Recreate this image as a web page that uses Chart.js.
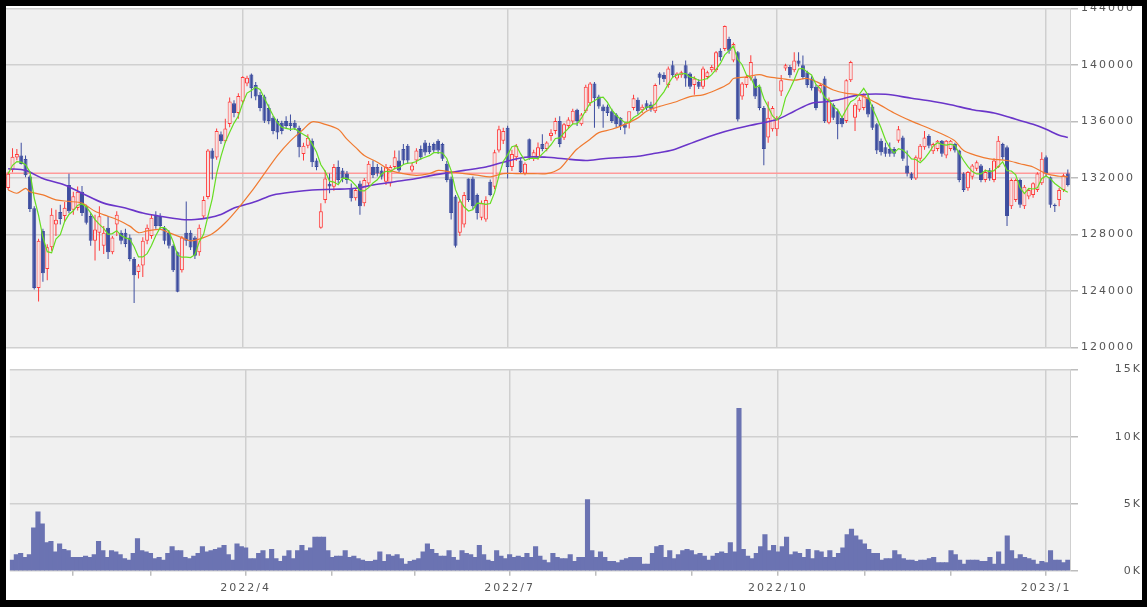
<!DOCTYPE html>
<html>
<head>
<meta charset="utf-8">
<script src="https://cdn.jsdelivr.net/npm/chart.js@4.4.0/dist/chart.umd.min.js"></script>
<style>
  html, body { margin: 0; padding: 0; background: #fff; overflow: hidden; }
  #wrap { position: relative; width: 1147px; height: 607px; overflow: hidden; background: #fff; }
  #priceBox { position: absolute; left: 6px; top: -1px; width: 1136px; height: 358px; }
  #volBox { position: absolute; left: 6px; top: 358px; width: 1136px; height: 243px; }
  #frame { position: absolute; left: 0; top: 0; width: 1147px; height: 607px; box-sizing: border-box;
           border-style: solid; border-color: #000; border-width: 6px 5px 7px 6px; pointer-events: none; }
</style>
</head>
<body>
<div id="wrap">
  <div id="priceBox"><canvas id="priceChart"></canvas></div>
  <div id="volBox"><canvas id="volChart"></canvas></div>
  <div id="frame"></div>
</div>
<script>
// trading days start here; weekends and these market holidays are skipped
const startDate = '2022-01-12';
const holidays = ['2022-02-11','2022-02-23','2022-03-21','2022-04-29','2022-05-03','2022-05-04','2022-05-05',
  '2022-07-18','2022-08-11','2022-09-19','2022-09-23','2022-10-10','2022-11-03','2022-11-23',
  '2023-01-02','2023-01-03','2023-01-09'];

const openPrices = [
  131300,132550,133450,133600,133350,132100,129850,124200,128250,125550,
  127100,128700,129600,129300,131500,129750,129870,131030,129990,129300,
  127550,128130,127200,128480,126740,128710,128130,128130,127780,126270,
  125340,125800,127550,127900,129400,129300,128480,128130,127200,126740,
  125460,128130,128130,127780,126740,129270,130660,133940,133450,135100,
  134600,135820,137300,136600,137420,138700,139330,138580,137900,137770,
  136950,136260,136030,135910,136030,135910,135910,135560,133700,134290,
  134630,133240,128480,130450,131600,131380,132780,132540,132310,131270,
  130570,131610,130220,131610,132780,132780,132540,131730,131610,132780,
  133240,134050,134290,132540,133240,134050,134520,134290,134400,134630,
  134400,133010,131960,130690,128130,128710,131960,131960,130800,129180,
  129060,131730,131380,133940,134630,135560,132780,133470,133240,132310,
  134750,133370,133470,134400,134050,134980,135330,136030,134860,135680,
  136000,136840,135800,136720,137300,138700,137770,137070,137070,136730,
  136490,136260,135800,135910,136960,137540,136800,137300,137200,136720,
  139400,139300,138580,139980,139050,139280,139980,139400,138580,138820,
  138470,139160,139630,139630,141020,141140,141840,140330,140900,137770,
  138580,139050,139050,138470,136960,134870,135450,135450,138120,139750,
  139860,139630,140330,139980,139500,139050,138470,138120,139050,135910,
  137190,136730,136260,136030,138930,136260,136840,136960,137650,137070,
  135800,134630,134170,134050,134050,134630,134870,132890,132310,131960,
  133360,134170,134980,133900,134050,134630,133590,134050,134400,133940,
  132310,131270,132080,132660,132890,131850,132550,131850,132770,134400,
  134170,129990,130450,131850,129990,130690,130800,131150,131620,133470,
  132050,130100,130450,131150,132310
];
const highPrices = [
  132450,134100,134050,134500,133600,132200,130000,127700,128400,127300,
  129850,129750,130100,130300,132300,131030,131400,131430,130100,129500,
  129400,129990,128600,129300,127900,129640,128300,128400,128000,126400,
  125900,127800,128700,129400,129640,129500,128600,128300,127300,126800,
  127900,130340,128300,127900,128700,130700,134050,134100,135500,135300,
  136200,137700,137500,138000,139200,139250,139400,138800,138100,137900,
  137200,136400,136200,136050,136380,136490,136100,135700,134500,135100,
  134800,133400,130220,132540,132310,133000,133240,132700,132500,131610,
  131300,131800,132000,133200,133240,133000,132800,133000,132900,133940,
  133940,134400,134400,133100,134100,134300,134700,134500,134520,134750,
  134500,133200,132100,130800,130500,131000,131960,132100,130900,130400,
  130700,131900,134000,135700,135560,135700,134000,134400,133400,133100,
  134800,134000,134520,135100,134600,135450,136260,136380,135900,136300,
  136900,136900,136600,138600,138800,138800,137900,137200,137200,136900,
  136600,136300,135900,136600,137900,137700,137200,137500,137400,138700,
  139500,139500,139900,140300,139500,139600,140330,139500,139200,139000,
  139900,139600,140000,141000,141200,142800,142000,141600,141000,138800,
  139300,140700,139200,138600,137100,137420,137100,136400,139300,140100,
  140000,140900,140900,140670,139600,139200,138600,138700,139200,137700,
  137300,136900,136400,139000,140300,137300,137700,138000,138000,137200,
  135900,134800,134500,134520,134200,135680,135000,133940,132400,133600,
  134400,135330,135100,134500,134700,134700,134700,134700,134500,134000,
  132400,132500,133000,133240,133000,132600,132700,133400,134980,134500,
  134300,131960,131960,131960,131500,131300,131700,132400,133820,133600,
  132100,130200,131300,132300,132600
];
const lowPrices = [
  131150,132400,133250,132950,132050,129600,124100,123250,124650,124750,
  126850,127900,128700,128900,129500,129400,129700,129300,128700,127200,
  126150,126850,126620,126270,126600,127900,127300,127100,126100,123140,
  124880,124990,127300,127700,128400,128400,127300,127000,125340,123900,
  125300,127200,126900,126270,126500,129100,130500,131900,133300,134400,
  134500,135600,136300,136200,137200,138500,137650,137500,136720,135900,
  135800,135100,134750,135100,135500,135330,135400,133470,133240,134100,
  132780,132550,128400,130220,130920,131100,131610,131700,131600,130340,
  130400,129400,130000,131400,132000,132100,131900,131500,131400,132600,
  132430,133000,133000,132400,133000,133300,133600,133700,133800,133700,
  133200,131700,129060,127080,127900,128500,130300,129800,129060,129000,
  128900,130700,131200,133800,134400,131960,132500,133200,132300,132200,
  133300,133200,133300,133900,133900,134640,135100,134170,134700,135500,
  135800,135680,135700,136600,137100,135560,136900,135560,136400,135900,
  135600,135400,135100,135500,136800,136500,136600,136800,136700,136600,
  138600,138800,138400,139100,138900,139100,138470,138300,137890,138300,
  138300,139000,139500,139500,140300,141000,140800,140200,136000,137540,
  138400,138900,137600,136800,132900,134500,135300,134980,137800,139600,
  139100,139500,139900,139000,138400,138200,136800,138000,135900,135800,
  136100,134750,135600,135900,138800,135330,136700,136800,136300,135400,
  133700,133600,133500,133500,133500,134500,133200,132100,131850,131850,
  133200,134000,134100,133700,133900,133500,133400,133900,133800,131700,
  131000,131100,131900,132500,131700,131700,131800,131700,132700,133300,
  128600,129800,130300,129900,129800,130500,130600,131000,131500,132100,
  129900,129600,130000,131000,131400
];
const closePrices = [
  132300,133500,133700,133000,132200,129800,124200,127550,125250,127100,
  129400,129050,129100,129900,129650,130700,131030,129520,128830,127550,
  128360,129290,128130,126740,127780,129400,127550,127320,126270,125110,
  125800,127550,128480,129180,128600,128600,127550,127200,125460,123950,
  127780,127550,127080,126500,128480,130450,133940,133360,135330,134600,
  135500,137420,136600,137800,139160,139100,138350,137770,136950,136050,
  136030,135330,135220,135330,135680,135680,135560,134170,134290,134860,
  133120,132780,129640,131960,131400,132780,131850,131960,131850,130570,
  131150,130000,131850,133010,132200,132310,132080,132780,132780,133470,
  132540,133240,133240,132890,133940,133470,133800,133820,133940,133940,
  133360,131850,129520,127200,130340,130800,130450,129990,129520,130220,
  130450,130800,133820,135450,135330,132780,133700,134290,132430,133010,
  133470,133820,134170,134050,134520,135210,136030,134400,135800,136140,
  136770,136030,136490,138470,138700,137650,137070,136730,136610,136030,
  135800,135680,135560,136720,137650,136725,137050,136950,136900,138580,
  139100,139000,139750,139280,139400,139500,139050,138470,139050,138470,
  139750,139500,139860,140910,140560,142770,141020,141490,136140,138700,
  139160,140210,137770,136960,134050,136260,136960,136260,138930,139980,
  139280,140330,140100,139160,138580,138350,136960,138580,136030,137540,
  136260,135800,135800,138930,140210,137190,137540,137890,136490,135560,
  133940,133820,133710,133710,133710,135450,133360,132310,131960,133470,
  134290,134870,134290,134400,134630,133710,134630,134630,133940,131850,
  131150,132430,132890,133120,131850,132430,131960,133240,134630,133470,
  129300,131850,131850,130100,131380,131150,131620,132310,133360,132310,
  130100,129990,131150,132200,131500
];
const volumes = [
  800,1200,1300,1000,1200,3200,4400,3500,2100,2200,
  1400,2000,1600,1500,1000,1000,1000,1100,1000,1200,
  2200,1500,1000,1500,1400,1200,900,800,1300,2400,
  1500,1400,1300,900,1000,800,1300,1800,1500,1500,
  1000,900,1100,1300,1800,1400,1500,1600,1700,1900,
  1200,800,2000,1800,1700,900,900,1300,1500,900,
  1600,900,700,1100,1500,900,1500,1900,1500,1700,
  2500,2500,2500,1500,1000,1100,1100,1500,1000,1100,
  900,800,700,700,800,1400,700,1200,1100,1200,
  900,500,700,800,900,1400,2000,1600,1300,1100,
  1100,1500,1000,800,1500,1300,1200,1000,1900,1200,
  800,700,1500,1100,900,1200,1000,1100,1000,1300,
  1000,1800,1100,800,600,1300,1000,900,900,1200,
  700,1000,1000,5300,1500,1000,1400,1000,700,700,
  600,800,900,1000,1000,1000,500,500,1300,1800,
  1900,1000,1500,900,1200,1500,1600,1500,1200,1300,
  1100,800,1100,1300,1400,1300,2100,1400,12100,1600,
  1100,900,1300,1800,2700,1500,1900,1400,1800,2500,
  1200,1400,1300,1000,1600,900,1500,1400,1000,1500,
  1000,1300,1700,2700,3100,2600,2300,2000,1600,1300,
  1300,800,900,900,1500,1200,900,800,800,700,
  800,800,900,1000,600,600,600,1500,1200,800,
  500,800,800,800,700,700,1000,500,1400,500,
  2600,1500,900,1200,1000,900,800,500,700,600,
  1500,800,800,600,800
];

// moving averages at these day positions
const ma25At = [0,2,4,5,8,11,14,17,20,23,25,28,30,32,35,37,40,42,44,47,50,53,56,59,62,65,68,70,73,76,
  78,80,82,85,88,91,94,97,99,102,105,108,111,114,117,121,124,127,129,131,134,136,139,142,145,147,150,154,157,160,
  163,166,167,170,173,175,178,181,184,187,190,193,196,200,204,208,212,216,218,220,223,226,230,233,236,239,242,244];
const ma25 = [131150,130920,131270,131030,130800,130450,130340,130220,129640,129290,129060,128590,128130,128250,128360,
  128130,127780,127550,127670,128050,128830,129870,131030,132310,133590,134630,135450,135980,135800,135450,
  134750,134170,133590,133120,132540,132310,132190,132310,132540,132430,132310,132200,132080,132310,132310,
  132310,132310,132660,133360,134050,134750,135215,135450,135800,136260,136725,137070,137420,137770,137890,
  138235,138700,139048,139164,139327,139164,139048,138932,139048,138700,138235,138000,137890,137305,136610,
  136030,135520,134980,134630,133940,133590,133360,133240,133010,132780,132310,132125,132080];
const ma75At = [0,4,8,13,17,22,27,31,35,40,43,46,49,52,57,61,66,70,75,80,84,89,94,97,100,105,110,114,119,124,
  128,133,137,142,145,149,153,158,163,167,172,177,181,185,189,192,196,202,208,213,217,222,227,231,236,239,242,244];
const ma75 = [132660,132540,131960,131500,130920,130220,129870,129520,129290,129060,129060,129175,129410,129870,130340,
  130800,131030,131150,131200,131270,131500,131730,131960,132150,132310,132540,132780,133120,133470,133470,
  133360,133240,133360,133470,133540,133750,133980,134550,135100,135450,135800,136140,136730,137300,137420,
  137600,137890,137930,137650,137420,137190,136840,136610,136260,135800,135450,135030,134870];

const priceTicks = [120000,124000,128000,132000,136000,140000,144000];
const volumeTicks = [0,5000,10000,15000];
const lastPriceLine = 132330;

// build the list of trading days
const tradingDays = [];
const d = new Date(startDate + 'T00:00:00Z');
while (tradingDays.length < closePrices.length) {
  const iso = d.toISOString().slice(0, 10);
  const wd = d.getUTCDay();
  if (wd !== 0 && wd !== 6 && !holidays.includes(iso)) tradingDays.push(iso);
  d.setUTCDate(d.getUTCDate() + 1);
}
const dayLabels = tradingDays.map(s => s.replace(/-/g, '/'));
const monthStart = tradingDays.map((s, i) => i > 0 && s.slice(5, 7) !== tradingDays[i - 1].slice(5, 7));
const quarterStart = tradingDays.map((s, i) => monthStart[i] && ['01','04','07','10'].includes(s.slice(5, 7)));
const axisLabel = tradingDays.map((s, i) => quarterStart[i] ? s.slice(0, 4) + '/' + Number(s.slice(5, 7)) : '');

// 5 day average of the closes
const ma5 = closePrices.map((c, i) => {
  const win = closePrices.slice(Math.max(0, i - 4), i + 1);
  return win.reduce((a, b) => a + b, 0) / win.length;
});
function spread(at, vals) {
  const out = closePrices.map(() => null);
  at.forEach((i, k) => { out[i] = vals[k]; });
  return out;
}

const isUp = closePrices.map((c, i) => c >= openPrices[i]);
const upLine = '#ff3b3b', upFill = '#f6e4e4', downCol = '#3d4d9f';

Chart.defaults.font.family = 'DejaVu Sans';
Chart.defaults.font.size = 11;
Chart.defaults.color = '#555';

const spacing = {
  id: 'spacing',
  beforeUpdate(c) { c.ctx.letterSpacing = '2px'; },
  beforeDraw(c) { c.ctx.letterSpacing = '2px'; }
};
const plotBg = {
  id: 'plotBg',
  beforeDraw(c) {
    const a = c.chartArea, ctx = c.ctx;
    ctx.save();
    ctx.fillStyle = '#f0f0f0';
    ctx.fillRect(a.left, a.top, a.right - a.left, a.bottom - a.top);
    ctx.restore();
  }
};
const refLine = {
  id: 'refLine',
  beforeDatasetsDraw(c) {
    const y = c.scales.y.getPixelForValue(lastPriceLine), a = c.chartArea, ctx = c.ctx;
    ctx.save();
    ctx.strokeStyle = '#ff9a9a';
    ctx.lineWidth = 1.5;
    ctx.beginPath();
    ctx.moveTo(a.left, y);
    ctx.lineTo(a.right, y);
    ctx.stroke();
    ctx.restore();
  }
};

const xGrid = ctx => quarterStart[ctx.index] ? '#cfcfcf' : 'transparent';

new Chart(document.getElementById('priceChart'), {
  type: 'bar',
  data: {
    labels: dayLabels,
    datasets: [
      { type: 'line', data: ma5, borderColor: '#66dd22', borderWidth: 1.2, pointRadius: 0, order: 0 },
      { type: 'line', data: spread(ma25At, ma25), spanGaps: true, tension: 0.3, borderColor: '#f07a30', borderWidth: 1.2, pointRadius: 0, order: 0 },
      { type: 'line', data: spread(ma75At, ma75), spanGaps: true, tension: 0.3, borderColor: '#6a35c9', borderWidth: 1.6, pointRadius: 0, order: 0 },
      {
        data: openPrices.map((o, i) => [o, closePrices[i]]),
        backgroundColor: isUp.map(u => u ? upFill : downCol),
        borderColor: isUp.map(u => u ? upLine : downCol),
        borderWidth: 1, borderSkipped: false, inflateAmount: 0,
        barThickness: 4, grouped: false, order: 1
      },
      {
        data: lowPrices.map((l, i) => [l, highPrices[i]]),
        backgroundColor: isUp.map(u => u ? upLine : downCol),
        borderWidth: 0, inflateAmount: 0,
        barThickness: 1, grouped: false, order: 2
      }
    ]
  },
  options: {
    responsive: true,
    maintainAspectRatio: false,
    animation: false,
    devicePixelRatio: 1,
    layout: { padding: 0 },
    plugins: { legend: { display: false }, tooltip: { enabled: false } },
    scales: {
      x: {
        offset: true,
        grid: { offset: false, color: xGrid, lineWidth: 1.5, drawTicks: false },
        border: { display: false },
        ticks: { display: false, autoSkip: false }
      },
      y: {
        position: 'right',
        min: priceTicks[0],
        max: priceTicks[priceTicks.length - 1],
        afterBuildTicks: s => { s.ticks = priceTicks.map(v => ({ value: v })); },
        ticks: { padding: 3, crossAlign: 'near', color: '#555', callback: v => String(v) },
        grid: { color: '#d0d0d0', lineWidth: 1.5, tickLength: 8, tickColor: '#bdbdbd' },
        border: { color: '#cfcfcf' },
        afterFit: s => { s.width = 72; }
      }
    }
  },
  plugins: [spacing, plotBg, refLine]
});

new Chart(document.getElementById('volChart'), {
  type: 'bar',
  data: {
    labels: dayLabels,
    datasets: [{
      data: volumes,
      backgroundColor: '#6b73b2',
      barPercentage: 1,
      categoryPercentage: 1,
      inflateAmount: 0.4
    }]
  },
  options: {
    responsive: true,
    maintainAspectRatio: false,
    animation: false,
    devicePixelRatio: 1,
    layout: { padding: 0 },
    plugins: { legend: { display: false }, tooltip: { enabled: false } },
    scales: {
      x: {
        offset: true,
        grid: {
          offset: false, color: xGrid, lineWidth: 1.5, tickLength: 5,
          tickColor: ctx => monthStart[ctx.index] ? '#bdbdbd' : 'transparent'
        },
        border: { display: false },
        ticks: { autoSkip: false, maxRotation: 0, padding: 6, color: '#555', callback: (v, i) => axisLabel[i] }
      },
      y: {
        position: 'right',
        min: volumeTicks[0],
        max: volumeTicks[volumeTicks.length - 1],
        afterBuildTicks: s => { s.ticks = volumeTicks.map(v => ({ value: v })); },
        ticks: { padding: 5, crossAlign: 'far', color: '#555', callback: v => (v / 1000) + 'K' },
        grid: { color: '#d0d0d0', lineWidth: 1.5, tickLength: 8, tickColor: '#bdbdbd' },
        border: { color: '#cfcfcf' },
        afterFit: s => { s.width = 72; }
      }
    }
  },
  plugins: [spacing, plotBg]
});
</script>
</body>
</html>
